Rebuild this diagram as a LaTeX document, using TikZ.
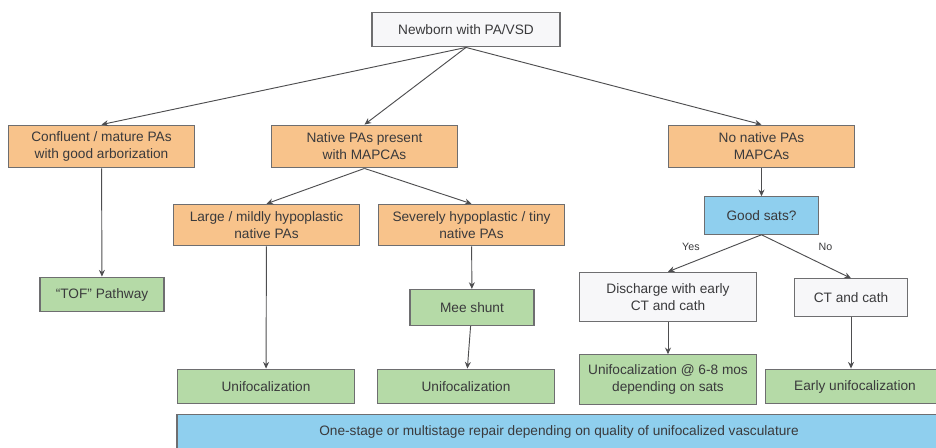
\documentclass[tikz,border=0pt]{standalone}
\usepackage{fontspec}
\setmainfont{Liberation Sans}
\usepackage{tikz}
\usetikzlibrary{arrows.meta,positioning}
\definecolor{Edge}{HTML}{6E6E70}
\definecolor{Ink}{HTML}{3A3A3C}
\definecolor{Peach}{HTML}{F8C38B}
\definecolor{Sage}{HTML}{B5DAA7}
\definecolor{Sky}{HTML}{8FCFEE}
\definecolor{Paper}{HTML}{F7F7F9}
\tikzset{base/.style={draw=Edge,line width=.9pt,text=Ink,align=center,inner sep=2pt,font=\fontsize{10.25}{12.6}\selectfont},plain/.style={base,fill=Paper},branch/.style={base,fill=Peach},act/.style={base,fill=Sage},ask/.style={base,fill=Sky},flow/.style={-{Stealth[length=5pt,width=4.5pt]},draw=Ink!90,line width=.7pt},lbl/.style={text=Ink,font=\fontsize{8}{9}\selectfont,inner sep=1pt}}

\begin{document}
\begin{tikzpicture}[x=.75pt,y=-.75pt]
      \useasboundingbox (0,0) rectangle (936,447);
      \clip (0,0) rectangle (936,447);
      % first split
      \node[plain,minimum width=141pt,minimum height=26pt](nb) at (466,29.5){Newborn with PA/VSD};
      \node[branch,minimum width=140pt,minimum height=32pt](conf) at (101.5,146.5){Confluent / mature PAs\\with good arborization};
      \node[branch,minimum width=140pt,minimum height=32pt](nat) at (364.5,146.5){Native PAs present\\with MAPCAs};
      \node[branch,minimum width=140pt,minimum height=32pt](nonat) at (761.5,146.5){No native PAs\\MAPCAs};
      % native PAs
      \node[branch,minimum width=140pt,minimum height=31pt](large) at (266.5,225){Large / mildly hypoplastic\\native PAs};
      \node[branch,minimum width=140pt,minimum height=31pt](sev) at (471.5,225){Severely hypoplastic / tiny\\native PAs};
      \node[act,minimum width=93pt,minimum height=26pt](tof) at (102,294.5){``TOF'' Pathway};
      \node[act,minimum width=93pt,minimum height=27pt](mee) at (472,307.5){Mee shunt};
      \node[act,minimum width=133pt,minimum height=26pt](uni1) at (266,386.5){Unifocalization};
      \node[act,minimum width=133pt,minimum height=26pt](uni2) at (466,386.5){Unifocalization};
      % no native PAs
      \node[ask,minimum width=85pt,minimum height=28pt](sats) at (761.5,215.5){Good sats?};
      \node[plain,minimum width=133pt,minimum height=37pt](dis) at (668,297){Discharge with early\\CT and cath};
      \node[plain,minimum width=85pt,minimum height=28pt](ct) at (851,297.5){CT and cath};
      \node[act,minimum width=133pt,minimum height=37pt](uniat) at (668,379.5){Unifocalization @ 6-8 mos\\depending on sats};
      \node[act,minimum width=134pt,minimum height=26pt](early) at (855,386.5){Early unifocalization};
      \node[ask,minimum width=573pt,minimum height=26pt](rep) at (559,432){One-stage or multistage repair depending on quality of unifocalized vasculature};
      \draw[flow](nb.south)--(conf.north);\draw[flow](nb.south)--(nat.north);\draw[flow](nb.south)--(nonat.north);
      \draw[flow](nat.south)--(large.north);\draw[flow](nat.south)--(sev.north);
      \draw[flow](conf)--(tof);\draw[flow](large)--(uni1);\draw[flow](sev)--(mee);\draw[flow](mee)--(uni2);
      \draw[flow](nonat)--(sats);
      \draw[flow](sats.south)--node[lbl,above left=1pt and 10pt]{Yes}(dis.north);
      \draw[flow](sats.south)--node[lbl,above right=3pt and 8pt]{No}(ct.north);
      \draw[flow](dis)--(uniat);\draw[flow](ct.south)--(ct.south|-early.north);
    \end{tikzpicture}
\end{document}
